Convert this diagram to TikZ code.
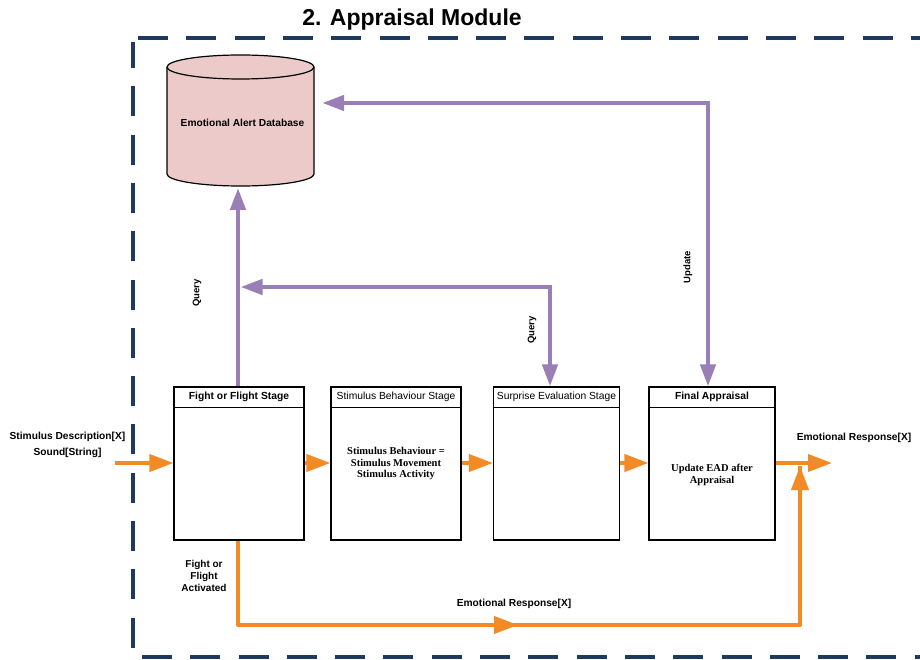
\documentclass[tikz,border=0pt]{standalone}
\usepackage{fontspec}
\setmainfont{Liberation Sans}
\newfontfamily\bodyserif{Liberation Serif}
\usetikzlibrary{arrows.meta}

\definecolor{flow}{HTML}{F28A26}
\definecolor{ctrl}{HTML}{9A7EB6}
\definecolor{frameblue}{HTML}{1F3A5F}
\definecolor{dbfill}{HTML}{EDCACA}

\begin{document}
\begin{tikzpicture}[x=1pt,y=-1pt,
  stagebox/.style={draw=black, line width=1.2pt, fill=white, inner sep=0pt,
    minimum width=130pt, minimum height=153pt},
  headtext/.style={font=\fontsize{10.3}{12}\selectfont},
  bodytext/.style={font=\bodyserif\bfseries\fontsize{10.5}{11.6}\selectfont, align=center},
  lbl/.style={font=\bfseries\fontsize{10.2}{16}\selectfont, align=center},
  sidelbl/.style={font=\bfseries\fontsize{9.5}{11}\selectfont, rotate=90},
  flowline/.style={draw=flow, line width=4pt},
  flowarrow/.style={flowline, -{Triangle[length=24pt,width=17pt]}},
  ctrlline/.style={draw=ctrl, line width=4.5pt},
  frameline/.style={draw=frameblue, line width=3.6pt, dash pattern=on 30pt off 18.3pt}
]
\useasboundingbox (0,0) rectangle (920,660);

% module frame
\draw[frameline] (138,38) -- (925,38);
\draw[frameline, dash phase=4pt] (133,42) -- (133,657) -- (925,657);

% title
\node[font=\bfseries\fontsize{23}{26}\selectfont] (title) at (412,19.5) {2. Appraisal Module};

% emotional alert database (cylinder)
\node[minimum width=147pt, minimum height=132pt, inner sep=0pt] (db) at (240.5,120) {};
\fill[dbfill] (167,67) -- (167,174) arc[start angle=180, end angle=360, x radius=73.5pt, y radius=12pt]
  -- (314,67) arc[start angle=0, end angle=180, x radius=73.5pt, y radius=12pt] -- cycle;
\draw[black, line width=1.2pt] (167,67) -- (167,174) arc[start angle=180, end angle=360, x radius=73.5pt, y radius=12pt] -- (314,67);
\draw[black, line width=1.2pt] (240.5,67) ellipse[x radius=73.5pt, y radius=12pt];
\node[font=\bfseries\fontsize{10.2}{11}\selectfont] (dblabel) at (242.5,123) {Emotional Alert Database};

% stages
\node[stagebox] (fight)    at (239,463.5) {};
\node[stagebox] (behave)   at (396,463.5) {};
\node[stagebox, minimum width=126pt] (surprise) at (556.5,463.5) {};
\node[stagebox, minimum width=126pt] (final)    at (712,463.5) {};

\foreach \s in {fight,behave,surprise,final}{
  \draw[black, line width=1.2pt] ([yshift=-21pt]\s.north west) -- ([yshift=-21pt]\s.north east);
}
\node[headtext, font=\bfseries\fontsize{10.3}{12}\selectfont] at ([yshift=-10.5pt]fight.north) {Fight or Flight Stage};
\node[headtext] at ([yshift=-10.5pt]behave.north) {Stimulus Behaviour Stage};
\node[headtext] at ([yshift=-10.5pt]surprise.north) {Surprise Evaluation Stage};
\node[headtext, font=\bfseries\fontsize{10.3}{12}\selectfont] at ([yshift=-10.5pt]final.north) {Final Appraisal};

\node[bodytext] (behavetext) at (396,463.5) {Stimulus Behaviour =\\Stimulus Movement\\Stimulus Activity};
\node[bodytext] (finaltext) at (712,475) {Update EAD after\\Appraisal};

% stimulus flow
\coordinate (in) at (115,463);
\coordinate (out) at (832,463);
\draw[flowarrow] (in) -- (fight.west |- in);
\draw[flowarrow] (fight.east |- in) -- (behave.west |- in);
\draw[flowarrow] (behave.east |- in) -- (surprise.west |- in);
\draw[flowarrow] (surprise.east |- in) -- (final.west |- in);
\draw[flowarrow] (final.east |- in) -- (out);

% fight or flight bypass
\coordinate (bl) at (238,625);
\coordinate (br) at (800,625);
\coordinate (join) at (800,466);
\draw[flowline, line join=round] ([xshift=-1pt]fight.south) -- (bl) -- (br) -- (join);
\draw[flowarrow] (494,625) -- (518,625);
\draw[flowarrow] ([yshift=-20pt]join) -- (join);

% queries and updates
\coordinate (dbtip) at (238,188);
\draw[ctrlline, -{Triangle[length=22pt,width=15pt]}] ([xshift=-1pt]fight.north) -- (dbtip);

\coordinate (qc) at (550,287);
\draw[ctrlline, line join=miter, {Triangle[length=22pt,width=15pt]}-{Triangle[length=22pt,width=15pt]}]
  (240.5,287) -- (qc) -- (surprise.north -| qc);

\coordinate (uc) at (708,103);
\draw[ctrlline, line join=miter, {Triangle[length=22pt,width=15pt]}-{Triangle[length=22pt,width=15pt]}]
  ([xshift=8pt]db.east |- uc) -- (uc) -- (final.north -| uc);

% labels
\node[sidelbl] (q1) at (197,293) {Query};
\node[sidelbl] (q2) at (532,330) {Query};
\node[sidelbl] (up) at (688,267) {Update};

\node[lbl] (inlbl) at (67.5,445) {Stimulus Description[X]\\Sound[String]};
\node[lbl] (outlbl) at (854,438) {Emotional Response[X]};
\node[lbl, font=\bfseries\fontsize{10}{11.8}\selectfont] (fflbl) at (204,576) {Fight or\\Flight\\Activated};
\node[lbl] (erlbl) at (514,604) {Emotional Response[X]};
\end{tikzpicture}
\end{document}
